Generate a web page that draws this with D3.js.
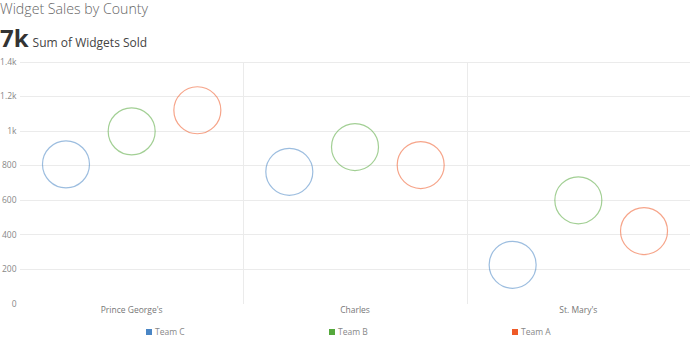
<!DOCTYPE html>
<html>
<head>
<meta charset="utf-8">
<script src="https://cdn.jsdelivr.net/npm/d3@7"></script>
<style>
  body { margin: 0; background: #fff; font-family: "Open Sans", sans-serif; }
  svg { display: block; }
</style>
</head>
<body>
<svg id="chart" width="690" height="337"></svg>
<script>
// data
var counties = ["Prince George's", "Charles", "St. Mary's"];
var teams = ["Team C", "Team B", "Team A"];
var teamC = [805, 762, 224];
var teamB = [996, 905, 597];
var teamA = [1118, 801, 419];
var yTicks = [0, 200, 400, 600, 800, 1000, 1200, 1400];
var teamColors = ["#4a86c5", "#55a83c", "#ef5a28"];

var series = [teamC, teamB, teamA];

var svg = d3.select('#chart');

var x0 = d3.scaleBand().domain(counties).range([20, 690]);
var x1 = d3.scaleBand().domain(teams).range([0, x0.bandwidth()]).paddingOuter(0.2);
var y = d3.scaleLinear().domain([0, 1400]).range([303.5, 61.5]);
var color = d3.scaleOrdinal().domain(teams).range(teamColors);

// title
svg.append('text')
	.attr('x', 0).attr('y', 14)
	.attr('font-size', 14).attr('font-weight', 300).attr('fill', '#666')
	.attr('textLength', 148).attr('lengthAdjust', 'spacingAndGlyphs')
	.text('Widget Sales by County');

var total = d3.sum(series, function(s){ return d3.sum(s); });
var big = svg.append('text').attr('x', 0).attr('y', 46.5);
big.append('tspan')
	.attr('font-size', 24).attr('font-weight', 700).attr('fill', '#333')
	.text(d3.format('.0s')(total));
big.append('tspan')
	.attr('dx', 4)
	.attr('font-size', 12).attr('fill', '#444')
	.text('Sum of Widgets Sold');

// gridlines
svg.append('g').selectAll('line')
	.data(yTicks.filter(function(d){ return d > 0; }))
	.join('line')
	.attr('x1', 20).attr('x2', 690)
	.attr('y1', function(d){ return Math.round(y(d)) + 0.5; })
	.attr('y2', function(d){ return Math.round(y(d)) + 0.5; })
	.attr('stroke', '#ebebeb');

// y axis labels
var yAxis = d3.axisLeft(y).tickValues(yTicks).tickSize(0).tickPadding(0)
	.tickFormat(function(d){ return d >= 1000 ? d3.format('~')(d / 1000) + 'k' : d; });
var ya = svg.append('g').attr('transform', 'translate(16.5,0)').call(yAxis);
ya.select('.domain').remove();
ya.selectAll('text').attr('font-family', '"Open Sans", sans-serif')
	.attr('font-size', 8.5).attr('fill', '#888');

// county separators
svg.append('g').selectAll('line')
	.data(counties.slice(1))
	.join('line')
	.attr('x1', function(d){ return Math.round(x0(d)) + 0.5; })
	.attr('x2', function(d){ return Math.round(x0(d)) + 0.5; })
	.attr('y1', 62).attr('y2', 304)
	.attr('stroke', '#ebebeb');

// x axis labels
var xAxis = d3.axisBottom(x0).tickSize(0).tickPadding(0);
var xa = svg.append('g').attr('transform', 'translate(0,307)').call(xAxis);
xa.select('.domain').remove();
xa.selectAll('text').attr('font-family', '"Open Sans", sans-serif')
	.attr('font-size', 8.5).attr('fill', '#777');

// bubbles
var groups = svg.append('g').selectAll('g')
	.data(counties)
	.join('g')
	.attr('transform', function(d){ return 'translate(' + x0(d) + ',0)'; });

groups.selectAll('circle')
	.data(function(d, i){ return teams.map(function(t, j){ return {team: t, value: series[j][i]}; }); })
	.join('circle')
	.attr('cx', function(d){ return x1(d.team) + x1.bandwidth() / 2; })
	.attr('cy', function(d){ return y(d.value); })
	.attr('r', 23.5)
	.attr('fill', 'none')
	.attr('stroke', function(d){ return color(d.team); })
	.attr('stroke-opacity', 0.55)
	.attr('stroke-width', 1.2);

// legend
var legendX = d3.scalePoint().domain(teams).range([146, 512]);
var legend = svg.append('g').selectAll('g')
	.data(teams)
	.join('g')
	.attr('transform', function(d){ return 'translate(' + legendX(d) + ',329)'; });
legend.append('rect')
	.attr('width', 6).attr('height', 6)
	.attr('fill', function(d){ return color(d); });
legend.append('text')
	.attr('x', 9).attr('y', 6)
	.attr('font-size', 8.5).attr('fill', '#888')
	.text(function(d){ return d; });
</script>
</body>
</html>
